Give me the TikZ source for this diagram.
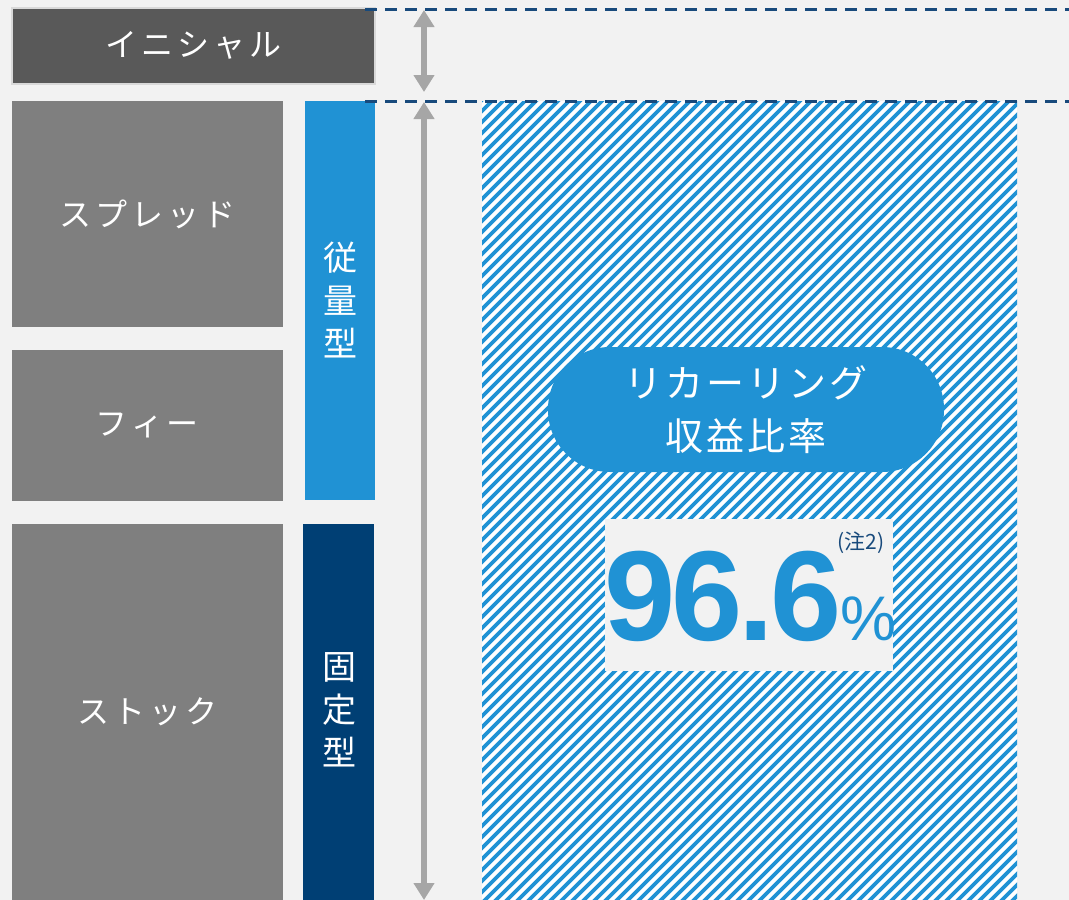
\documentclass[tikz,border=0pt]{standalone}
\usepackage{fontspec}
\usetikzlibrary{arrows.meta}
\newfontfamily\jp{Noto Sans CJK JP}
\newfontfamily\jpbox[LetterSpace=12]{Noto Sans CJK JP}
\newfontfamily\jppill[LetterSpace=8]{Noto Sans CJK JP}
\newfontfamily\numfont[LetterSpace=-3]{Liberation Sans}
\newfontfamily\pctfont{Liberation Sans}
\definecolor{bg}{HTML}{F2F2F2}
\definecolor{initgrey}{HTML}{595959}
\definecolor{boxgrey}{HTML}{7F7F7F}
\definecolor{initborder}{HTML}{D9D9D9}
\definecolor{lblue}{HTML}{2092D4}
\definecolor{dblue}{HTML}{003F74}
\definecolor{dashblue}{HTML}{184A7C}
\definecolor{arrowgrey}{HTML}{A6A6A6}
\tikzset{
  catbox/.style={fill=boxgrey, inner sep=0pt, outer sep=0pt, anchor=north west,
    text=white, font=\jpbox\fontsize{32}{36}\selectfont},
  typebox/.style={inner sep=0pt, outer sep=0pt, anchor=north west},
  typetext/.style={text=white, align=center, inner sep=0pt, font=\jp\fontsize{34}{43}\selectfont},
  garrow/.style={draw=arrowgrey, line width=6pt,
    {Triangle[width=20pt,length=17pt]}-{Triangle[width=20pt,length=17pt]}},
  dline/.style={draw=dashblue, line width=3pt, dash pattern=on 12pt off 8pt},
}
\begin{document}
\begin{tikzpicture}[x=1pt,y=-1pt]
\fill[bg] (0,0) rectangle (1069,900);
\useasboundingbox (0,0) rectangle (1069,900);

% hatched area
\begin{scope}
  \clip (482,101) rectangle (1017,900);
  \fill[white] (482,101) rectangle (1017,900);
  \foreach \a in {482,493,...,1830}
    \draw[lblue, line width=3.8pt] (\a,100) -- (\a-805,905);
\end{scope}

% initial box
\node[fill=initgrey, draw=initborder, line width=2pt, inner sep=0pt, outer sep=0pt,
  minimum width=363pt, minimum height=76pt, text=white,
  font=\jpbox\fontsize{32}{36}\selectfont] (init) at (193.5,45.5) {イニシャル};

% category boxes
\node[catbox, minimum width=271pt, minimum height=226pt] (spread) at (12,101) {スプレッド};
\node[catbox, minimum width=271pt, minimum height=151pt] (fee) at (12,350) {フィー};
\node[catbox, minimum width=271pt, minimum height=376pt] (stock) at (12,524) {ストック};

% type boxes
\node[typebox, fill=lblue, minimum width=70pt, minimum height=399pt] (juryo) at (305,101) {};
\node[typetext] (juryot) at (340,300) {従\\量\\型};
\node[typebox, fill=dblue, minimum width=71pt, minimum height=376pt] (kotei) at (303,524) {};
\node[typetext] (koteit) at (339,710) {固\\定\\型};

% dashed lines
\coordinate (d1s) at (365,9);
\coordinate (d1e) at (1069,9);
\coordinate (d2s) at (365,101);
\coordinate (d2e) at (1069,101);
\draw[dline] (d1s) -- (d1e);
\draw[dline] (d2s) -- (d2e);

% arrows
\coordinate (a1t) at (424,10);
\coordinate (a1b) at (424,92);
\coordinate (a2t) at (424,102);
\coordinate (a2b) at (424,900);
\draw[garrow] (a1t) -- (a1b);
\draw[garrow] (a2t) -- (a2b);

% pill
\node[fill=lblue, rounded corners=62pt, minimum width=396pt, minimum height=125pt,
  inner sep=0pt, text=white, align=center,
  font=\jppill\fontsize{38}{53}\selectfont] (pill) at (746,409.5) {リカーリング\\収益比率};

% value box
\node[fill=bg, inner sep=0pt, minimum width=288pt, minimum height=152pt] (valbox) at (749,595) {};
\node[anchor=base west, inner sep=0pt, text=lblue,
  font=\numfont\bfseries\fontsize{128}{128}\selectfont] (val) at (604,640) {96.6};
\node[anchor=base west, inner sep=0pt, text=lblue,
  font=\pctfont\fontsize{63}{63}\selectfont] (pct) at (840,640) {\%};
\node[inner sep=0pt, text=dashblue, font=\jp\fontsize{21}{21}\selectfont] (note) at (861,543) {(注2)};
\end{tikzpicture}
\end{document}
